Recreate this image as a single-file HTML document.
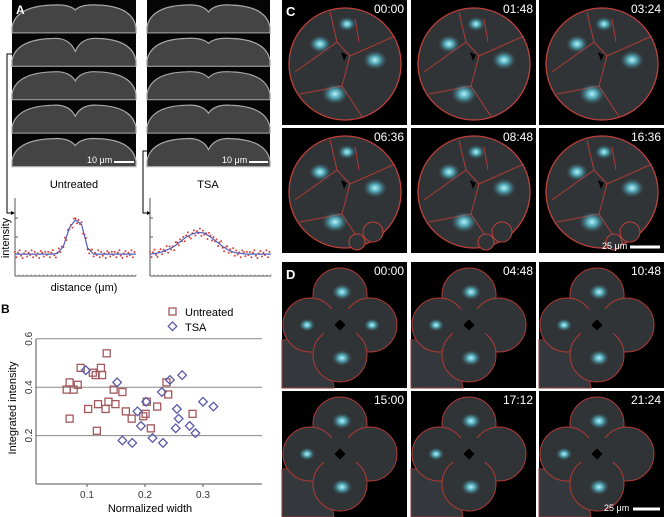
<!DOCTYPE html>
<html><head><meta charset="utf-8">
<style>
html,body{margin:0;padding:0;background:#fff;overflow:hidden;width:664px;height:517px;}
svg{display:block;font-family:"Liberation Sans",Arial,sans-serif;}
</style></head>
<body>
<svg id="fig" width="664" height="517" viewBox="0 0 664 517" xmlns="http://www.w3.org/2000/svg">
<defs>
<radialGradient id="cyan" cx="50%" cy="50%" r="50%">
<stop offset="0%" stop-color="#bff4ff"/><stop offset="40%" stop-color="#5fd0e0" stop-opacity="0.75"/><stop offset="100%" stop-color="#3a6a74" stop-opacity="0"/>
</radialGradient>
</defs>
<g id="panelA"></g>
<g id="panelB"></g>
<g id="panelC"></g>
<g id="panelD"></g>
</svg>
<script>
// ---------- Panel B data ----------
const untreatedX=[.134,.089,.124,.110,.115,.126,.070,.084,.065,.077,.146,.161,.237,.240,.137,.119,.149,.102,.132,.167,.177,.070,.203,.221,.201,.197,.210,.117,.282];
const untreatedY=[.54,.48,.48,.46,.45,.45,.42,.41,.39,.39,.39,.38,.42,.37,.34,.33,.33,.31,.31,.30,.27,.27,.34,.32,.29,.28,.23,.22,.29];
const tsaX=[.098,.152,.243,.264,.229,.202,.300,.318,.255,.187,.258,.193,.253,.277,.287,.213,.161,.178,.231];
const tsaY=[.47,.42,.43,.45,.38,.34,.34,.32,.31,.30,.27,.24,.23,.24,.21,.19,.18,.17,.17];
const xTicks=[0.1,0.2,0.3];
const xTickLabels=["0.1","0.2","0.3"];
const yTicks=[0.2,0.4,0.6];
const yTickLabels=["0.2","0.4","0.6"];
// ---------- Panel A profile data ----------
const profPos=[0,.05,.1,.15,.2,.25,.3,.35,.4,.45,.5,.55,.6,.65,.7,.75,.8,.85,.9,.95,1];
const untreatedFit=[.28,.28,.28,.28,.28,.28,.28,.29,.38,.62,.72,.66,.36,.28,.28,.28,.28,.28,.28,.28,.28];
const tsaFit=[.28,.29,.31,.34,.38,.44,.50,.54,.56,.55,.50,.44,.38,.33,.30,.29,.28,.28,.28,.28,.28];
const noise=[.03,-.04,.02,.05,-.02,-.05,.01,.04,-.03,.02,-.01,.05,-.04,.03,-.02,.01,-.05,.04,.02,-.03,.03,-.01];

const NS="http://www.w3.org/2000/svg";
function mk(tag,attrs,parent,text){const e=document.createElementNS(NS,tag);for(const k in attrs)e.setAttribute(k,attrs[k]);if(text!==undefined)e.textContent=text;parent.appendChild(e);return e;}
const defs=document.querySelector('defs');
const CELL='#313437';

// ================= Panel A =================
const A=document.getElementById('panelA');
function tile(x,y,w,h,dip,depth){
  const g=mk('g',{},A);
  
  
  mk('rect',{x:x,y:y,width:w,height:h,fill:'#050505'},g);
  const m=x+w*dip;
  const d=`M${x},${y+h} L${x},${y+h-6} Q${x+4},${y+6} ${m-22},${y+5} Q${m-6},${y+4} ${m},${y+4+depth} Q${m+6},${y+4} ${m+22},${y+5} Q${x+w-4},${y+6} ${x+w},${y+h-6} L${x+w},${y+h} Z`;
  mk('path',{d:d,fill:'#444',stroke:'#a8a8a8','stroke-width':1.2},g);
}
const lw=124,th=33;
for(let i=0;i<5;i++){tile(12,i*33.4,lw,th,0.51,[6,14,10,12,8][i]);}
for(let i=0;i<5;i++){tile(147,i*33.4,lw-1,th,0.5,[8,6,7,9,12][i]);}
mk('text',{x:16,y:14,fill:'#fff','font-size':12,'font-weight':'bold'},A,'A');
mk('text',{x:87,y:163,fill:'#fff','font-size':9},A,'10 μm');
mk('line',{x1:114,y1:162,x2:134,y2:162,stroke:'#fff','stroke-width':2},A);
mk('text',{x:222,y:163,fill:'#fff','font-size':9},A,'10 μm');
mk('line',{x1:249,y1:162,x2:268,y2:162,stroke:'#fff','stroke-width':2},A);
const tl1=mk('text',{x:74,y:188,'text-anchor':'middle','font-size':11},A,'Untreated');

const tl2=mk('text',{x:208,y:188,'text-anchor':'middle','font-size':11},A,'TSA');

mk('polyline',{points:'12,54 7,54 7,213 14,213',fill:'none',stroke:'#000','stroke-width':1},A);
mk('path',{d:'M15,213 l-4,-2 v4 z',fill:'#000'},A);
mk('polyline',{points:'147,151 143,151 143,213 150,213',fill:'none',stroke:'#000','stroke-width':1},A);
mk('path',{d:'M151,213 l-4,-2 v4 z',fill:'#000'},A);
function profile(x0,fit,name){
  const g=mk('g',{},A);
  
  
  const w=121,yb=276,sc=78;
  mk('line',{x1:x0,y1:198,x2:x0,y2:yb,stroke:'#555','stroke-width':1},g);
  mk('line',{x1:x0,y1:yb,x2:x0+w,y2:yb,stroke:'#555','stroke-width':1},g);
  [218,237].forEach(t=>mk('line',{x1:x0,y1:t,x2:x0+3,y2:t,stroke:'#555'},g));
  for(let i=0;i<=30;i++)mk('line',{x1:x0+i*w/30,y1:yb,x2:x0+i*w/30,y2:yb-1.5,stroke:'#555','stroke-width':0.6},g);
  const px=p=>x0+p*w, py=v=>yb-v*sc;
  for(let i=0;i<profPos.length-1;i++){
    for(let k=0;k<4;k++){
      const t=k/4, p=profPos[i]+t*(profPos[i+1]-profPos[i]);
      const v=fit[i]+t*(fit[i+1]-fit[i])+noise[(i*4+k)%noise.length];
      const c=mk('circle',{cx:px(p),cy:py(v),r:1,fill:'#d8443a'},g);
      
    }
  }
  const pl=mk('polyline',{points:profPos.map((p,i)=>px(p)+','+py(fit[i])).join(' '),fill:'none',stroke:'#5060c0','stroke-width':1.2},g);
  
}
profile(15,untreatedFit,'untreated-profile');
profile(150,tsaFit,'tsa-profile');
const it=mk('text',{x:0,y:0,'font-size':11,transform:'translate(9,238) rotate(-90)','text-anchor':'middle'},A,'intensity');

const dt=mk('text',{x:84,y:291,'font-size':11,'text-anchor':'middle'},A,'distance (μm)');


// ================= Panel B =================
const B=document.getElementById('panelB');
const bx0=36,bx1=262,byB=484;
const sx=v=>29+v*580, sy=v=>484-v*242;
mk('text',{x:1,y:313,'font-size':12,'font-weight':'bold'},B,'B');
yTicks.forEach((t,i)=>{
  const gl=mk('line',{x1:bx0,y1:sy(t),x2:bx1,y2:sy(t),stroke:'#888','stroke-width':1},B);
  
  const tx=mk('text',{x:0,y:0,'font-size':10,fill:'#333','text-anchor':'middle',transform:`translate(32,${sy(t)}) rotate(-90)`},B,yTickLabels[i]);
  
});
xTicks.forEach((t,i)=>{
  mk('line',{x1:sx(t),y1:byB,x2:sx(t),y2:byB+3,stroke:'#555'},B);
  const tx=mk('text',{x:sx(t),y:498,'font-size':10,fill:'#333','text-anchor':'middle'},B,xTickLabels[i]);
  
});
mk('line',{x1:bx0,y1:339,x2:bx0,y2:byB,stroke:'#555'},B);
mk('line',{x1:bx0,y1:byB,x2:bx1,y2:byB,stroke:'#555'},B);
untreatedX.forEach((x,i)=>{
  const r=mk('rect',{x:sx(x)-3.5,y:sy(untreatedY[i])-3.5,width:7,height:7,fill:'none',stroke:'#a4585c','stroke-width':1.3},B);
  
  
});
tsaX.forEach((x,i)=>{
  const cx=sx(x),cy=sy(tsaY[i]);
  const p=mk('path',{d:`M${cx},${cy-4.3} L${cx+4.3},${cy} L${cx},${cy+4.3} L${cx-4.3},${cy} Z`,fill:'none',stroke:'#5a5aa8','stroke-width':1.3},B);
  
  
});
const lg=mk('g',{},B);


mk('rect',{x:169,y:308,width:7,height:7,fill:'none',stroke:'#a4585c','stroke-width':1.3},lg);
mk('text',{x:185,y:316,'font-size':11},lg,'Untreated');
mk('path',{d:'M172.5,322 L176.8,326.3 L172.5,330.6 L168.2,326.3 Z',fill:'none',stroke:'#5a5aa8','stroke-width':1.3},lg);
mk('text',{x:185,y:331,'font-size':11},lg,'TSA');
const yt=mk('text',{x:0,y:0,'font-size':11,'text-anchor':'middle',transform:'translate(16,408) rotate(-90)'},B,'Integrated intensity');

const xt=mk('text',{x:150,y:512,'font-size':11,'text-anchor':'middle'},B,'Normalized width');


// ================= Panels C & D =================
const C=document.getElementById('panelC'), D=document.getElementById('panelD');
const colX=[282,411,539], pw=125;
function frame(par,x,y,h,label){
  const outer=mk('g',{},par);
  
  
  mk('rect',{x:x,y:y,width:pw,height:h,fill:'#000'},outer);
  const g=mk('g',{},outer);
  const t=mk('text',{x:x+pw-3,y:y+13,fill:'#fff','font-size':12,'text-anchor':'end'},outer,label);
  
  return g;
}
function blob(g,cx,cy,r){mk('ellipse',{cx:cx,cy:cy,rx:r,ry:r*0.8,fill:'url(#cyan)'},g);}
const cLabels=["00:00","01:48","03:24","06:36","08:48","16:36"];
cLabels.forEach((l,i)=>{
  const x=colX[i%3], y=i<3?0:128;
  const g=frame(C,x,y,125,l);
  const cx=x+63, cy=y+64;
  mk('circle',{cx:cx,cy:cy,r:56,fill:CELL,stroke:'#c0403a','stroke-width':1.3},g);
  mk('path',{d:`M${cx-15},${cy-52} L${cx-8},${cy-22} L${cx-50},${cy+8} M${cx-8},${cy-22} L${cx+5},${cy-8} L${cx+50},${cy-28} M${cx+5},${cy-8} L${cx-3},${cy+22} L${cx+18},${cy+54} M${cx-3},${cy+22} L${cx-45},${cy+30} M${cx+10},${cy-45} L${cx+14},${cy-22}`,fill:'none',stroke:'#b03a35','stroke-width':1},g);
  mk('path',{d:`M${cx-4},${cy-12} l6,3 l-3,6 z`,fill:'#000'},g);
  blob(g,cx-25,cy-20,11);blob(g,cx+2,cy-40,9);blob(g,cx+30,cy-4,12);blob(g,cx-10,cy+30,13);
  if(i>=3){mk('circle',{cx:cx+28,cy:cy+40,r:10,fill:CELL,stroke:'#c0403a'},g);mk('circle',{cx:cx+12,cy:cy+50,r:8,fill:CELL,stroke:'#c0403a'},g);}
});
mk('text',{x:286,y:16,fill:'#fff','font-size':13,'font-weight':'bold'},C,'C');
mk('text',{x:602,y:249,fill:'#fff','font-size':9},C,'25 μm');
mk('line',{x1:630,y1:247,x2:660,y2:247,stroke:'#fff','stroke-width':3},C);

const dLabels=["00:00","04:48","10:48","15:00","17:12","21:24"];
dLabels.forEach((l,i)=>{
  const x=colX[i%3], y=i<3?262:391;
  const h=i<3?126:126;
  const g=frame(D,x,y,h,l);
  const nb=mk('path',{d:`M${x},${y+h} L${x},${y+h-48} Q${x+45},${y+h-52} ${x+52},${y+h} Z`,fill:'#34383c',stroke:'#8c3a35'},g);
  
  const cx=x+58, cy=y+63;
  [[0,-30],[-30,0],[30,0],[0,30]].forEach(o=>mk('circle',{cx:cx+o[0],cy:cy+o[1],r:27,fill:CELL,stroke:'#b03a35','stroke-width':1},g));
  mk('circle',{cx:cx,cy:cy,r:18,fill:CELL},g);
  mk('rect',{x:cx-4,y:cy-4,width:8,height:8,fill:'#000',transform:`rotate(45 ${cx} ${cy})`},g);
  blob(g,cx+2,cy-33,10);blob(g,cx-33,cy,8);blob(g,cx+2,cy+33,10);
  if(i===0)blob(g,cx+32,cy,8);
});
mk('text',{x:286,y:279,fill:'#fff','font-size':13,'font-weight':'bold'},D,'D');
mk('text',{x:604,y:511,fill:'#fff','font-size':9},D,'25 μm');
mk('line',{x1:633,y1:509,x2:660,y2:509,stroke:'#fff','stroke-width':3},D);
</script>
</body></html>
